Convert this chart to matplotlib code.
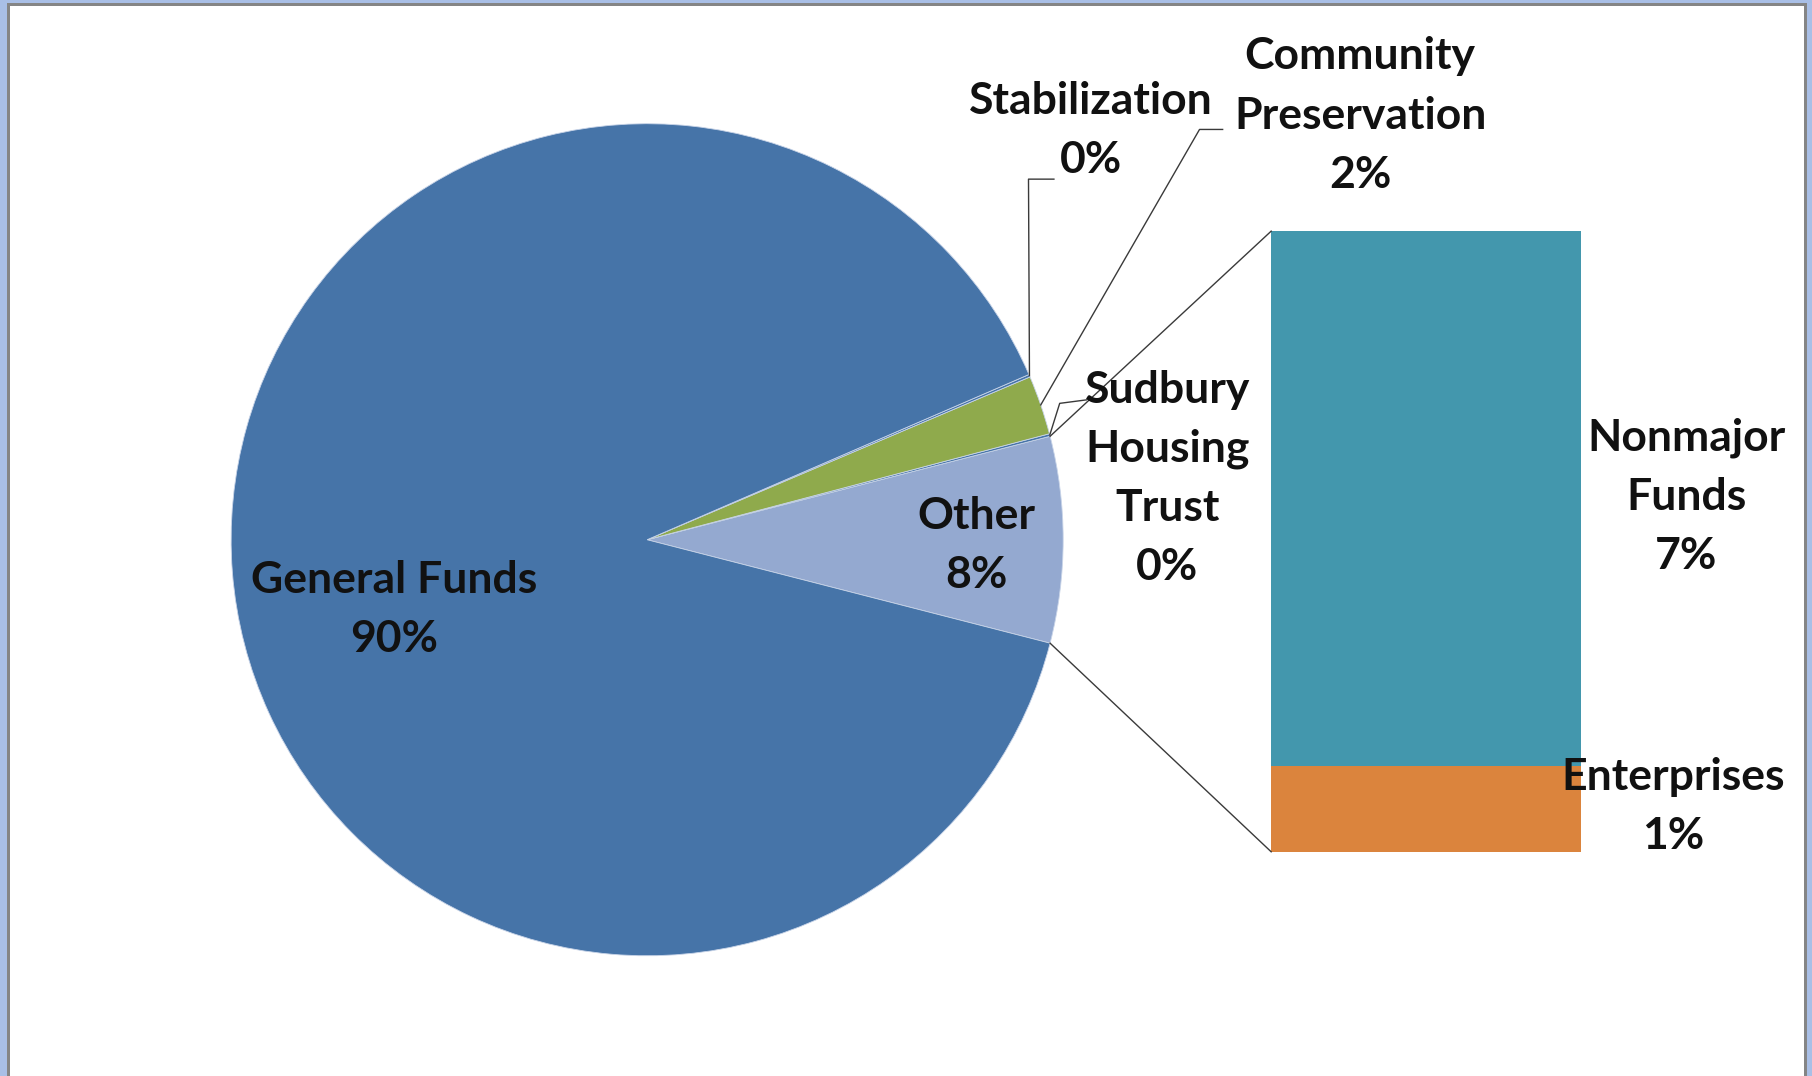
import matplotlib
matplotlib.use("Agg")
import matplotlib.pyplot as plt
from matplotlib.lines import Line2D
from matplotlib.patches import Rectangle
import numpy as np

# ---------------- data ----------------
pie_names = ["Other", "Sudbury\nHousing\nTrust", "Community\nPreservation", "Stabilization", "General Funds"]
pie_values = [8.0, 0.1, 2.3, 0.1, 89.5]           # Other = Nonmajor + Enterprises
bar_names = ["Enterprises", "Nonmajor\nFunds"]
bar_values = [1.1, 6.9]

pie_colors = ["#94A9D0", "#4674A8", "#8FAA4C", "#4674A8", "#4674A8"]
bar_colors = ["#DB843D", "#4397AD"]

W, H = 1568.0, 931.0   # reference layout units


def F(x, y):
    return (x / W, 1 - y / H)


fig = plt.figure(figsize=(18.12, 10.76), dpi=100)
fig.patch.set_facecolor("white")

FONT = dict(family=["Lato", "DejaVu Sans"], fontsize=32, fontweight="bold",
            color="#111111", linespacing=1.58)

total = sum(pie_values)
pct = lambda v: f"{int(v / total * 100 + 0.5)}%"

# ---------------- pie ----------------
cx, cy, r = 560, 467, 360
axp = fig.add_axes([(cx - r) / W, 1 - (cy + r) / H, 2 * r / W, 2 * r / H])
start = -pie_values[0] / total * 360 / 2
axp.pie(pie_values, colors=pie_colors, startangle=start, counterclock=True,
        radius=1.0, wedgeprops=dict(linewidth=0.6, edgecolor="#c8d4e8"))
axp.set_xlim(-1, 1)
axp.set_ylim(-1, 1)
axp.set_aspect("equal")
axp.axis("off")

cum = np.cumsum([0] + pie_values)
ang = lambda i: np.deg2rad(start + cum[i] / total * 360)   # boundary angle i


def pie_pt(theta):
    d = axp.transData.transform((np.cos(theta), np.sin(theta)))
    return fig.transFigure.inverted().transform(d)


def mid(i):
    return (ang(i) + ang(i + 1)) / 2


# ---------------- bar ----------------
bx0, bx1, by0, by1 = 1100, 1368, 200, 737
axb = fig.add_axes([bx0 / W, 1 - by1 / H, (bx1 - bx0) / W, (by1 - by0) / H])
bottom = 0
for v, c in zip(bar_values, bar_colors):
    axb.bar(0.5, v, width=1.0, bottom=bottom, color=c, linewidth=0)
    bottom += v
axb.set_xlim(0, 1)
axb.set_ylim(0, sum(bar_values))
axb.axis("off")


def bar_pt(x, y):
    d = axb.transData.transform((x, y))
    return fig.transFigure.inverted().transform(d)


def fline(pts, **kw):
    xs = [p[0] for p in pts]
    ys = [p[1] for p in pts]
    fig.add_artist(Line2D(xs, ys, transform=fig.transFigure,
                          color=kw.get("color", "#3a3a3a"), lw=kw.get("lw", 1.0)))


# connector lines pie -> bar
fline([pie_pt(ang(1)), bar_pt(0, sum(bar_values))])
fline([pie_pt(ang(0)), bar_pt(0, 0)])

# leader lines
fline([pie_pt(mid(3)), F(890, 155), F(912, 155)])                       # Stabilization
fline([pie_pt(mid(2)), F(1038, 112), F(1058, 112)])                     # Community Pres.
fline([pie_pt(mid(1)), F(917, 349), F(940, 346)])                       # Sudbury

# ---------------- labels ----------------
def lab(x, y, s):
    fx, fy = F(x, y)
    fig.text(fx, fy, s, ha="center", va="center", **FONT)

lab(341, 527, f"{pie_names[4]}\n{pct(pie_values[4])}")
lab(845, 472, f"{pie_names[0]}\n{pct(pie_values[0])}")
lab(944, 113, f"{pie_names[3]}\n{pct(pie_values[3])}")
lab(1177, 100, f"{pie_names[2]}\n{pct(pie_values[2])}")
lab(1010, 414, f"{pie_names[1]}\n{pct(pie_values[1])}")
lab(1459, 430, f"{bar_names[1]}\n{pct(bar_values[1])}")
lab(1448, 698, f"{bar_names[0]}\n{pct(bar_values[0])}")

# ---------------- window frame ----------------
PX = 1 / 1812.0
PY = 1 / 1076.0
blue = "#A9BFE6"
gray = "#858585"
fig.add_artist(Rectangle((0, 0), 7 * PX, 1, transform=fig.transFigure, color=blue, lw=0))
fig.add_artist(Rectangle((7 * PX, 0), 3 * PX, 1 - 3 * PY, transform=fig.transFigure, color=gray, lw=0))
fig.add_artist(Rectangle((0, 1 - 3 * PY), 1, 3 * PY, transform=fig.transFigure, color=blue, lw=0))
fig.add_artist(Rectangle((7 * PX, 1 - 6 * PY), 1 - 12 * PX, 3 * PY, transform=fig.transFigure, color=gray, lw=0))
fig.add_artist(Rectangle((1 - 5 * PX, 0), 5 * PX, 1, transform=fig.transFigure, color=blue, lw=0))
fig.add_artist(Rectangle((1 - 8 * PX, 0), 3 * PX, 1 - 3 * PY, transform=fig.transFigure, color=gray, lw=0))

fig.savefig("out.png", dpi=100, facecolor="white")
